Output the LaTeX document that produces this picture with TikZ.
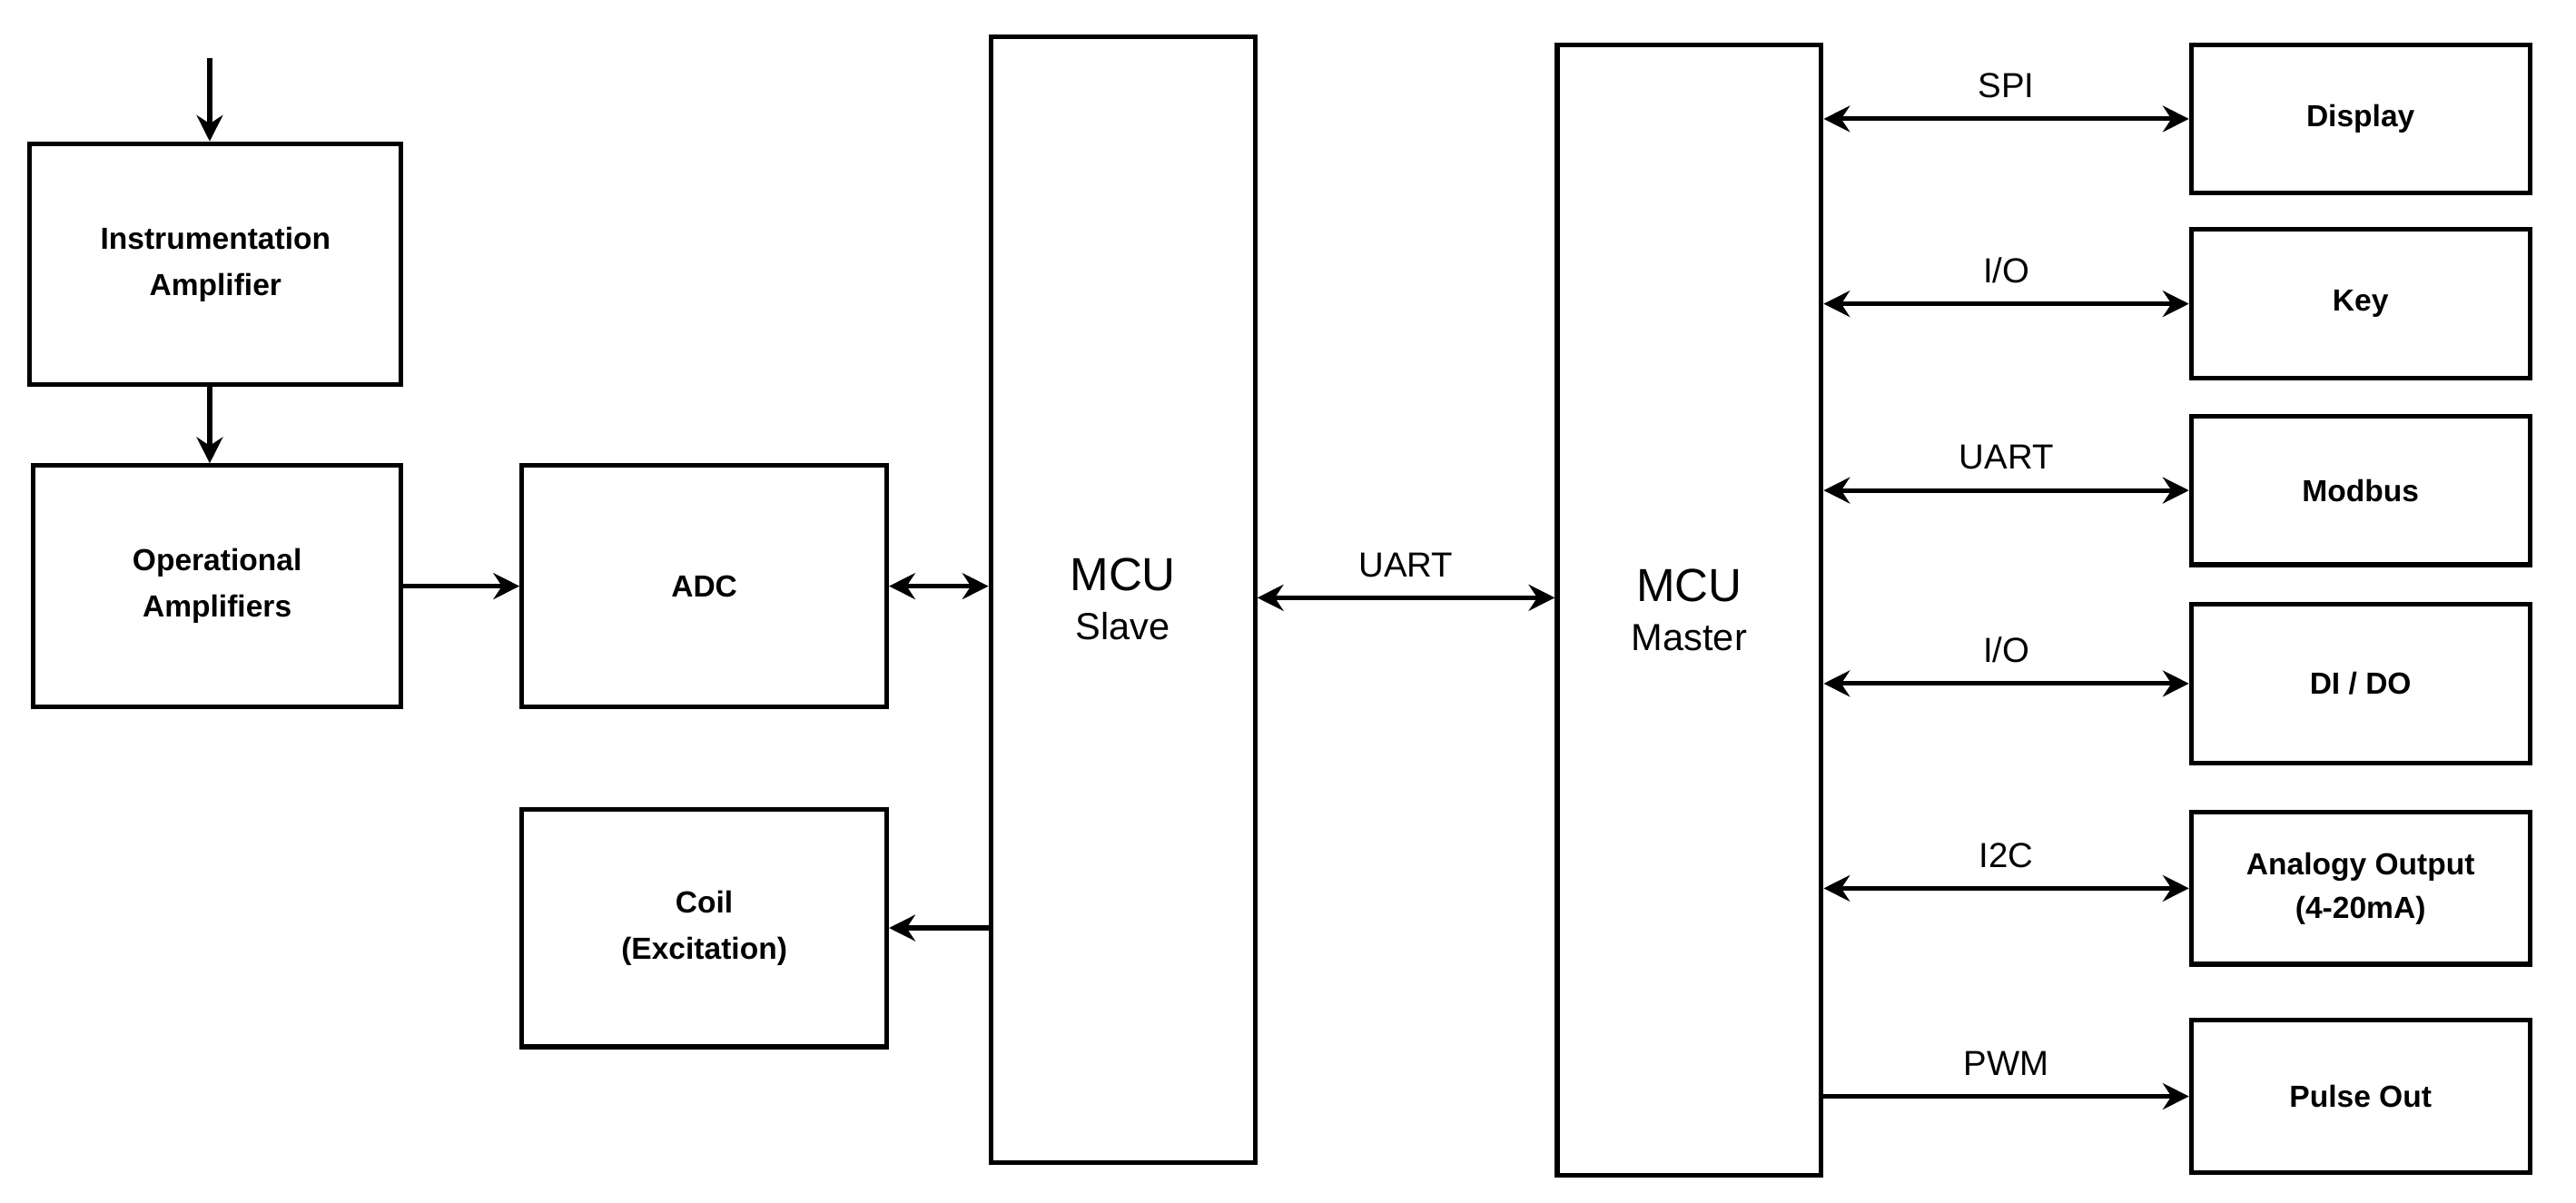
\documentclass[tikz,border=0pt]{standalone}
\usepackage{fontspec}
\setmainfont{Liberation Sans}
\usetikzlibrary{arrows.meta}
\begin{document}
\begin{tikzpicture}[x=0.02cm,y=-0.02cm,
  box/.style={draw,line width=1.6pt,align=center,font=\bfseries\fontsize{10.5}{13}\selectfont},
  big/.style={box,font=\fontsize{16}{19}\selectfont},
  ar/.style={line width=1.6pt,-{Stealth[length=9pt,width=9pt]}},
  dar/.style={line width=1.6pt,{Stealth[length=9pt,width=9pt]}-{Stealth[length=9pt,width=9pt]}},
  lab/.style={font=\fontsize{12}{14}\selectfont}]
\useasboundingbox (0,0) rectangle (1560,728.5);
\path[fill=white] (0,0) rectangle (1560,728.5);
\node[box,minimum width=4.5cm,minimum height=2.92cm] (ia) at (130.5,160) {Instrumentation\\[3pt]Amplifier};
\node[box,minimum width=4.46cm,minimum height=2.92cm] (op) at (131.5,355) {Operational\\[3pt]Amplifiers};
\node[box,minimum width=4.42cm,minimum height=2.92cm] (adc) at (426.5,355) {ADC};
\node[box,minimum width=4.42cm,minimum height=2.88cm] (coil) at (426.5,562) {Coil\\[3pt](Excitation)};
\node[big,minimum width=3.2cm,minimum height=13.64cm] (sl) at (680,363) {MCU\\[-2pt]{\fontsize{13}{15}\selectfont Slave}};
\node[big,minimum width=3.2cm,minimum height=13.7cm] (ms) at (1023,369.5) {MCU\\[-2pt]{\fontsize{13}{15}\selectfont Master}};
\foreach \n/\t/\y/\h in {d/{Display}/72/1.8,k/{Key}/184/1.8,m/{Modbus}/297/1.8,io/{DI / DO}/414/1.92,ao/{Analogy Output\\[2pt](4-20mA)}/538/1.84,p/{Pulse Out}/664/1.84}
  \node[box,minimum width=4.1cm,minimum height=\h cm] (\n) at (1429.5,\y) {\t};
\coordinate (top) at (127,35);
\draw[ar] (top) -- (ia.north -| top);
\draw[ar] (ia.south -| top) -- (op.north -| top);
\draw[ar] (op.east) -- (adc.west);
\draw[dar] (adc.east) -- (adc.east -| sl.west);
\draw[ar] (coil.east -| sl.west) -- (coil.east);
\draw[dar] (sl.east |- 0,362) -- node[lab,above=3pt]{UART} (ms.west |- 0,362);
\foreach \n/\l in {d/{SPI},k/{I/O},m/{UART},io/{I/O},ao/{I2C}}
  \draw[dar] (\n.west -| ms.east) -- node[lab,above=3pt]{\l} (\n.west);
\draw[ar] (p.west -| ms.east) -- node[lab,above=3pt]{PWM} (p.west);
\end{tikzpicture}
\end{document}
